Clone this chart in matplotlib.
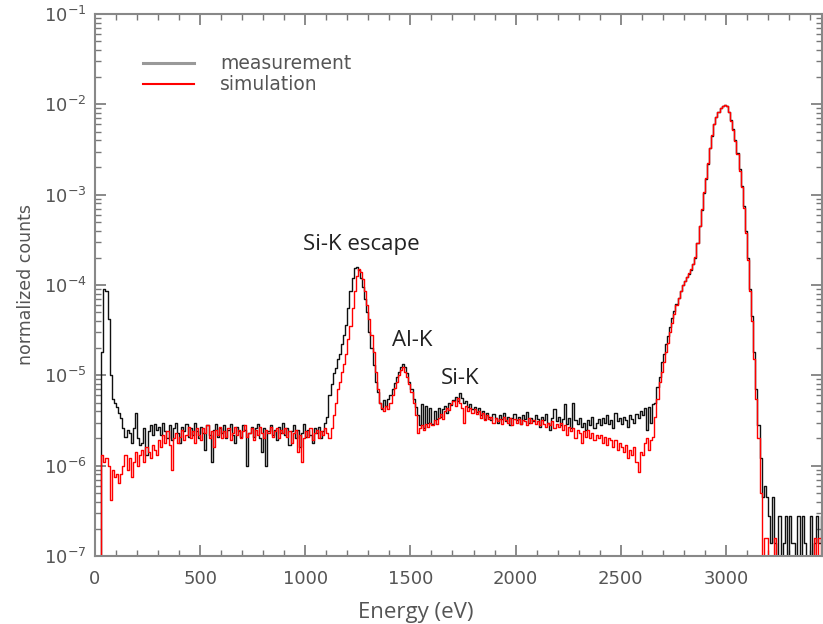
import numpy as np
import matplotlib
matplotlib.use("Agg")
import matplotlib.pyplot as plt
from matplotlib.lines import Line2D
from matplotlib.ticker import MultipleLocator, LogLocator, NullFormatter

# Datos del espectro (bins de 10 eV), cuentas normalizadas en unidades de 1e-6
energia = np.arange(5, 3460, 10)

medicion = [
    0.1, 0.1, 0.1, 18, 90, 85, 42, 10, 5.5, 5.0,            # 0-100
    4.5, 3.8, 3.4, 2.6, 2.1, 2.5, 2.3, 1.8, 2.6, 3.8,       # 100-200
    2.0, 1.7, 1.8, 2.6, 1.3, 2.4, 2.8, 2.2, 2.9, 2.5,       # 200-300
    2.7, 2.2, 3.0, 2.4, 2.0, 2.8, 1.9, 2.6, 3.0, 2.3,       # 300-400
    1.8, 2.7, 2.4, 2.9, 2.1, 2.6, 2.2, 3.0, 2.4, 2.0,       # 400-500
    2.7, 2.3, 1.5, 2.8, 2.2, 1.1, 2.5, 2.9, 2.1, 2.6,       # 500-600
    2.3, 2.8, 2.0, 2.5, 2.9, 2.2, 1.8, 2.7, 2.4, 2.1,       # 600-700
    2.8, 2.5, 1.0, 2.3, 2.7, 2.1, 2.6, 2.9, 2.0, 1.4,       # 700-800
    2.6, 1.0, 2.4, 2.8, 2.2, 2.5, 1.9, 2.7, 2.3, 3.0,       # 800-900
    2.2, 2.6, 1.7, 2.4, 2.8, 2.0, 2.5, 1.6, 2.3, 2.9,       # 900-1000
    2.1, 2.5, 2.2, 1.8, 2.6, 2.3, 2.7, 2.0, 2.4, 3.0,       # 1000-1100
    3.5, 6.0, 8.0, 10.5, 12, 15, 17, 22, 28, 36,            # 1100-1200
    55, 85, 120, 155, 160, 145, 120, 95, 70, 50,            # 1200-1300
    30, 20, 13, 8.5, 6.5, 5.0, 4.2, 5.3, 4.6, 5.5,          # 1300-1400
    6.0, 7.0, 8.2, 9.5, 11, 12.5, 13.5, 12.5, 10.5, 8.5,    # 1400-1500
    7.0, 5.5, 4.5, 3.6, 2.8, 4.8, 2.6, 4.6, 3.0, 4.3,       # 1500-1600
    2.9, 4.0, 3.3, 4.4, 3.5, 4.2, 4.6, 3.8, 5.0, 4.7,       # 1600-1700
    5.3, 5.8, 5.2, 6.3, 5.6, 4.9, 5.2, 4.5, 4.8, 4.2,       # 1700-1800
    4.5, 3.9, 4.3, 3.6, 4.0, 3.3, 3.8, 3.5, 3.2, 3.7,       # 1800-1900
    3.4, 3.0, 3.6, 3.3, 3.8, 3.1, 3.5, 2.8, 3.4, 3.7,       # 1900-2000
    3.2, 3.5, 2.9, 3.6, 3.3, 3.9, 3.0, 3.4, 3.1, 3.6,       # 2000-2100
    3.3, 2.7, 3.5, 3.2, 3.7, 3.0, 2.5, 3.4, 4.2, 3.1,       # 2100-2200
    3.5, 2.8, 3.3, 4.8, 2.9, 3.4, 2.6, 5.0, 3.2, 2.9,       # 2200-2300
    3.4, 2.7, 3.0, 2.5, 3.2, 2.8, 3.5, 2.6, 3.0, 3.3,       # 2300-2400
    2.8, 3.4, 3.0, 3.6, 2.9, 3.2, 2.6, 3.8, 3.1, 3.4,       # 2400-2500
    2.9, 3.5, 3.2, 2.7, 3.6, 3.3, 3.0, 3.7, 3.4, 4.0,       # 2500-2600
    3.6, 4.4, 2.5, 4.5, 3.0, 4.8, 5.0, 7.5, 9.5, 14,        # 2600-2700
    17, 22, 27, 34, 43, 52, 62, 72, 85, 100,                # 2700-2800
    110, 122, 133, 148, 170, 200, 290, 450, 680, 1050,      # 2800-2900
    1500, 2200, 3300, 4500, 6000, 7300, 8300, 9000, 9500, 9800,  # 2900-3000
    9600, 8300, 6700, 5300, 4000, 2900, 1900, 1250, 750, 400,    # 3000-3100
    200, 90, 45, 18, 7, 2.8, 1.2, 0.45, 0.6, 0.45,         # 3100-3200
    0.28, 0.14, 0.45, 0.14, 0.1, 0.28, 0.1, 0.14, 0.28, 0.1,  # 3200-3300
    0.28, 0.14, 0.14, 0.1, 0.28, 0.1, 0.28, 0.14, 0.1, 0.1,   # 3300-3400
    0.28, 0.1, 0.14, 0.28, 0.14, 0.28,                        # 3400-3460
]

simulacion = [
    0.1, 0.1, 0.1, 1.3, 1.1, 1.2, 1.0, 0.42, 0.9, 0.75,     # 0-100
    0.8, 0.65, 0.8, 1.0, 1.3, 0.9, 1.2, 0.75, 1.1, 1.4,     # 100-200
    1.0, 1.3, 1.5, 1.1, 1.6, 1.4, 1.2, 1.7, 1.5, 1.3,       # 200-300
    1.9, 1.6, 2.2, 1.8, 2.4, 1.7, 0.9, 2.0, 2.3, 1.8,       # 300-400
    2.1, 2.5, 1.9, 2.2, 2.7, 2.0, 2.4, 1.8, 2.6, 2.2,       # 400-500
    1.9, 2.6, 2.3, 2.8, 2.0, 2.4, 1.6, 2.5, 2.2, 2.7,       # 500-600
    2.0, 2.4, 2.1, 2.6, 1.9, 2.3, 2.7, 2.2, 2.5, 2.0,       # 600-700
    2.4, 2.8, 2.1, 2.3, 2.6, 1.9, 2.5, 2.2, 2.7, 2.3,       # 700-800
    2.0, 2.5, 2.3, 2.7, 2.1, 2.4, 2.6, 2.0, 2.5, 2.3,       # 800-900
    2.6, 2.1, 2.4, 1.8, 2.3, 2.5, 1.4, 2.2, 1.1, 2.0,       # 900-1000
    2.4, 2.1, 2.6, 1.9, 2.3, 2.5, 2.0, 2.4, 2.2, 2.6,       # 1000-1100
    2.3, 2.0, 2.6, 3.6, 5.0, 7.0, 8.5, 11, 13.5, 17,        # 1100-1200
    25, 35, 55, 85, 125, 150, 140, 115, 85, 60,             # 1200-1300
    42, 28, 18, 11, 7, 5, 4.3, 4.0, 4.6, 4.2,               # 1300-1400
    5.0, 6.0, 7.2, 8.5, 10, 11.5, 12.5, 11, 9.5, 8,         # 1400-1500
    6.5, 5.0, 3.6, 2.3, 2.6, 2.8, 2.5, 2.9, 2.7, 3.0,       # 1500-1600
    2.8, 3.2, 2.9, 3.4, 3.7, 3.3, 4.0, 4.4, 4.1, 4.8,       # 1600-1700
    5.2, 4.6, 5.6, 5.0, 4.4, 3.0, 4.6, 4.0, 4.3, 3.8,       # 1700-1800
    4.2, 3.7, 4.0, 3.4, 3.8, 3.2, 3.6, 3.3, 3.5, 3.0,       # 1800-1900
    3.4, 3.1, 3.3, 2.9, 3.5, 3.2, 3.0, 3.4, 2.8, 3.3,       # 1900-2000
    3.0, 3.3, 2.9, 3.2, 3.1, 2.8, 3.4, 3.0, 3.2, 2.9,       # 2000-2100
    3.1, 2.8, 3.2, 2.9, 2.7, 3.0, 2.8, 3.1, 2.6, 2.9,       # 2100-2200
    2.7, 3.0, 2.5, 2.8, 2.2, 2.7, 2.4, 2.6, 2.0, 2.5,       # 2200-2300
    2.3, 1.8, 2.4, 2.1, 2.5, 2.0, 2.3, 1.9, 2.2, 2.0,       # 2300-2400
    2.2, 1.8, 2.1, 1.7, 2.0, 1.9, 1.6, 1.9, 1.5, 1.8,       # 2400-2500
    1.6, 1.4, 1.7, 1.2, 1.5, 1.3, 1.6, 1.1, 0.85, 1.4,      # 2500-2600
    1.3, 1.8, 2.0, 1.5, 1.9, 2.1, 3.5, 5.5, 8.5, 11,        # 2600-2700
    14, 18, 23, 30, 38, 48, 60, 72, 85, 100,                # 2700-2800
    112, 124, 135, 150, 172, 205, 295, 455, 690, 1060,      # 2800-2900
    1520, 2220, 3320, 4520, 6000, 7300, 8300, 9000, 9500, 9750,  # 2900-3000
    9550, 8200, 6600, 5200, 3900, 2800, 1850, 1200, 720, 380,    # 3000-3100
    190, 85, 40, 15, 5.5, 2.0, 0.5, 0.1, 0.16, 0.16,        # 3100-3200
    0.1, 0.1, 0.1, 0.16, 0.1, 0.1, 0.1, 0.1, 0.1, 0.1,      # 3200-3300
    0.1, 0.1, 0.1, 0.1, 0.1, 0.1, 0.1, 0.1, 0.1, 0.1,       # 3300-3400
    0.1, 0.1, 0.16, 0.1, 0.16, 0.1,                         # 3400-3460
]

etiquetas = ["Si-K escape", "Al-K", "Si-K"]
pos_etiquetas = [(1267, 2.8e-4), (1508, 2.45e-5), (1736, 9.3e-6)]

ticks_x = [0, 500, 1000, 1500, 2000, 2500, 3000]
ticks_y = [1e-7, 1e-6, 1e-5, 1e-4, 1e-3, 1e-2, 1e-1]

gris = "#555555"
plt.rcParams["font.family"] = "DejaVu Sans"
plt.rcParams["mathtext.default"] = "regular"

fig = plt.figure(figsize=(8.23, 6.24), dpi=100)
ax = fig.add_axes([0.1154, 0.109, 0.8834, 0.8686])

med = np.array(medicion) * 1e-6
sim = np.array(simulacion) * 1e-6
ax.step(energia, med, where="mid", color="#111111", lw=1.0)
ax.step(energia, sim, where="mid", color="red", lw=1.0)

ax.set_yscale("log")
ax.set_xlim(0, 3457)
ax.set_ylim(1e-7, 1e-1)

ax.set_xticks(ticks_x)
ax.xaxis.set_minor_locator(MultipleLocator(100))
ax.set_yticks(ticks_y)
ax.yaxis.set_minor_locator(LogLocator(base=10, subs=np.arange(2, 10), numticks=10))
ax.yaxis.set_minor_formatter(NullFormatter())

ax.tick_params(which="both", direction="in", top=True, right=True, colors="#777777",
               labelcolor=gris, labelsize=13)
ax.tick_params(which="major", length=8, width=1.2)
ax.tick_params(which="minor", length=4, width=1.0)
ax.tick_params(axis="x", pad=10)
ax.tick_params(axis="y", pad=6)
for s in ax.spines.values():
    s.set_color("#888888")
    s.set_linewidth(1.5)

ax.set_xlabel("Energy (eV)", family="Open Sans", fontsize=16, color=gris)
ax.xaxis.set_label_coords(0.4415, -0.085)
ax.set_ylabel("normalized counts", fontsize=12.5, color=gris, labelpad=6)

for texto, (ex, ey) in zip(etiquetas, pos_etiquetas):
    ax.text(ex, ey, texto, family="Open Sans", fontsize=16, color="#222222",
            ha="center", va="center")

manejadores = [Line2D([], [], color="#999999", lw=2.2), Line2D([], [], color="red", lw=1.5)]
leg = ax.legend(manejadores, ["measurement", "simulation"], loc="upper left",
                bbox_to_anchor=(0.066, 0.926), frameon=False, fontsize=13.5,
                borderpad=0, borderaxespad=0,
                handlelength=2.7, handletextpad=1.4, labelspacing=0.12)
for t in leg.get_texts():
    t.set_color(gris)

fig.savefig("out.png", dpi=100)
